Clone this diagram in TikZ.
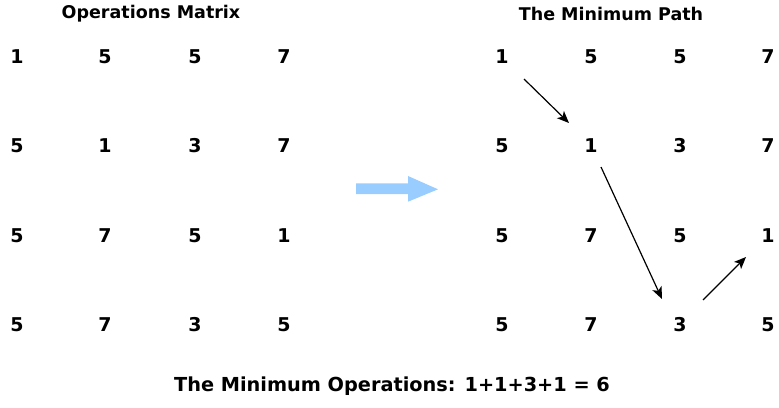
\documentclass[tikz,border=0pt]{standalone}
\usepackage{fontspec}
\setmainfont{DejaVu Sans}
\usetikzlibrary{arrows.meta}
\begin{document}
\begin{tikzpicture}[x=1pt,y=-1pt,
  num/.style={font=\fontsize{19}{19}\selectfont\bfseries, inner sep=0pt, anchor=center},
  ttl/.style={font=\fontsize{17.5}{17.5}\selectfont\bfseries, inner sep=0pt, anchor=center},
  btm/.style={font=\fontsize{19.3}{19.3}\selectfont\bfseries, inner sep=0pt, anchor=center},
  patharrow/.style={line width=1.2pt, -{Stealth[length=12pt,width=10pt,inset=3pt]}},
  bigarrow/.style={fill={rgb,255:red,153;green,204;blue,255}}]
\useasboundingbox (0,0) rectangle (779,407);
\node[ttl] (t1) at (151,14) {Operations Matrix};
\node[ttl] (t2) at (611,14) {The Minimum Path};
\foreach \r/\y/\a/\b/\c/\d in {1/57/1/5/5/7, 2/146/5/1/3/7, 3/236/5/7/5/1, 4/325/5/7/3/5}{
  \node[num] (l\r1) at (17,\y) {\a};
  \node[num] (l\r2) at (105,\y) {\b};
  \node[num] (l\r3) at (195,\y) {\c};
  \node[num] (l\r4) at (284,\y) {\d};
  \node[num] (r\r1) at (502,\y) {\a};
  \node[num] (r\r2) at (591,\y) {\b};
  \node[num] (r\r3) at (680,\y) {\c};
  \node[num] (r\r4) at (768,\y) {\d};
}
\fill[bigarrow] (356,183.3) -- (408,183.3) -- (408,176) -- (438,189.3) -- (408,201.7) -- (408,194) -- (356,194) -- cycle;
\draw[patharrow] ([xshift=22pt,yshift=-22pt]r11.center) -- ([xshift=-22pt,yshift=23pt]r22.center);
\draw[patharrow] ([xshift=10pt,yshift=-21pt]r22.center) -- ([xshift=-18pt,yshift=26pt]r43.center);
\draw[patharrow] ([xshift=23pt,yshift=25pt]r43.center) -- ([xshift=-22pt,yshift=-21pt]r34.center);
\node[btm] (res) at (392,386) {The Minimum Operations: 1+1+3+1 = 6};
\end{tikzpicture}
\end{document}
